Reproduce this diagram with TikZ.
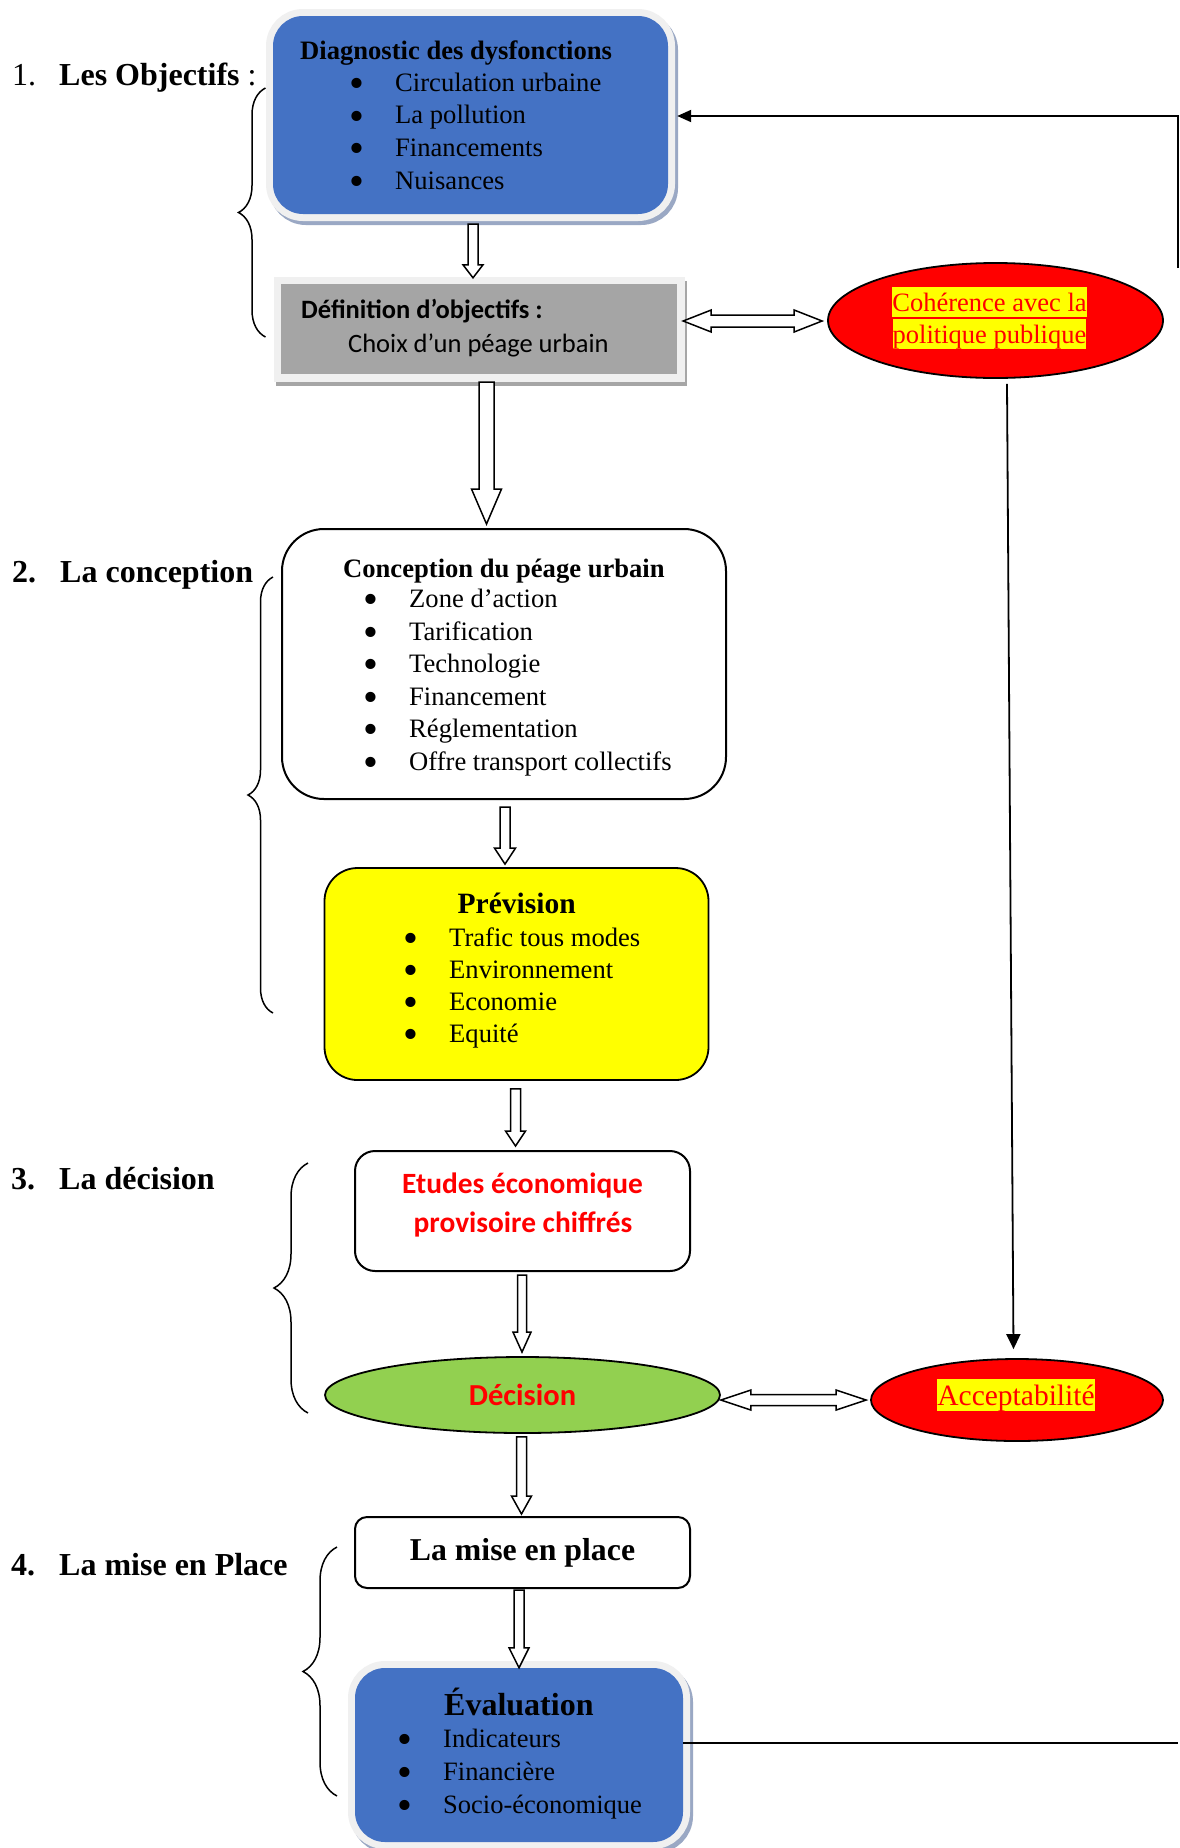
\documentclass[tikz,border=0pt]{standalone}
\usepackage{fontspec}
\setmainfont{Liberation Serif}
\newfontfamily\calib{Carlito}
\usetikzlibrary{shapes.geometric,calc,arrows.meta,decorations.pathreplacing}
\definecolor{boxblue}{HTML}{4472C4}
\definecolor{boxgray}{HTML}{A5A5A5}
\definecolor{glowgray}{HTML}{F0F0F0}
\definecolor{shblue}{HTML}{9AA8C4}
\definecolor{shgray}{HTML}{A6A6A6}
\definecolor{yel}{HTML}{FFFF00}
\definecolor{rd}{HTML}{FF0000}
\definecolor{grn}{HTML}{92D050}
\newcommand\fsz[2]{\fontsize{#1pt}{#2pt}\selectfont}
\newcommand\bl{\makebox[46pt][l]{\smash{\raisebox{-0.24em}{\scalebox{1.6}{•}}}}}
\newcommand\blist[1]{\begin{tabular}[t]{@{}l@{}}#1\end{tabular}}
\newcommand\hlt[1]{{\setlength{\fboxsep}{0pt}\colorbox{yel}{\rule[-0.216em]{0pt}{1.107em}#1}}}
% hollow single arrow: start, end, half shaft, half head, head length
\newcommand\harrow[5]{%
  \coordinate (hH) at ($(#2)!#5pt!(#1)$);
  \draw[hollow] ($(#1)!#3pt!90:(#2)$) -- ($(hH)!#3pt!-90:(#1)$) -- ($(hH)!#4pt!-90:(#1)$) -- (#2)
    -- ($(hH)!#4pt!90:(#1)$) -- ($(hH)!#3pt!90:(#1)$) -- ($(#1)!#3pt!-90:(#2)$) -- cycle;}
% hollow double arrow
\newcommand\dharrow[5]{%
  \coordinate (hA) at ($(#1)!#5pt!(#2)$);
  \coordinate (hB) at ($(#2)!#5pt!(#1)$);
  \draw[hollow] (#1) -- ($(hA)!#4pt!90:(#2)$) -- ($(hA)!#3pt!90:(#2)$) -- ($(hB)!#3pt!-90:(#1)$)
    -- ($(hB)!#4pt!-90:(#1)$) -- (#2) -- ($(hB)!#4pt!90:(#1)$) -- ($(hB)!#3pt!90:(#1)$)
    -- ($(hA)!#3pt!-90:(#2)$) -- ($(hA)!#4pt!-90:(#2)$) -- cycle;}
\tikzset{
  txt/.style={inner sep=0pt, anchor=base west},
  ctxt/.style={inner sep=0pt, anchor=base},
  hollow/.style={draw=black, fill=white, line width=1.5pt, line join=miter},
  plainbox/.style={draw=black, line width=2pt, fill=white, inner sep=0pt},
  blueglow/.style={fill=boxblue, inner sep=0pt, rounded corners=30pt,
    preaction={draw=shblue, line width=14pt, transform canvas={shift={(3pt,-4pt)}}},
    preaction={draw=glowgray, line width=14pt}},
  grayglow/.style={fill=boxgray, inner sep=0pt,
    preaction={draw=shgray, line width=15pt, transform canvas={shift={(2pt,-4pt)}}},
    preaction={draw=glowgray, line width=15pt}},
  oval/.style={ellipse, draw=black, line width=1.8pt, inner sep=0pt},
  curly/.style={decorate, decoration={brace, amplitude=#1}, line width=1.5pt},
  head/.style={font=\fsz{32}{38}},
  boldhead/.style={font=\fsz{32}{38}\bfseries},
  item/.style={font=\fsz{26.6}{32.7}},
  bolditem/.style={font=\fsz{26.6}{32.7}\bfseries},
  feed/.style={line width=2pt}
}
\begin{document}
\begin{tikzpicture}[x=1pt,y=-1pt]
\useasboundingbox (0,0) rectangle (1179,1848);
\fill[white] (0,0) rectangle (1179,1848);

% ---------- boxes ----------
\node[blueglow, minimum width=395pt, minimum height=198pt] (diag) at (470.5,115) {};
\node[grayglow, minimum width=396pt, minimum height=90pt] (defn) at (479,329) {};
\node[oval, fill=rd, minimum width=335pt, minimum height=115pt] (coh) at (995.5,320.5) {};
\node[plainbox, rounded corners=42pt, minimum width=444pt, minimum height=270pt] (conc) at (504,664) {};
\node[plainbox, fill=yel, line width=1.8pt, rounded corners=33pt, minimum width=384pt, minimum height=212pt] (prev) at (516.5,974) {};
\node[plainbox, rounded corners=20pt, minimum width=335pt, minimum height=120pt] (etud) at (522.5,1211) {};
\node[oval, fill=grn, minimum width=395pt, minimum height=76pt] (deci) at (522.5,1395) {};
\node[oval, fill=rd, minimum width=292pt, minimum height=82pt] (acc) at (1017,1400) {};
\node[plainbox, rounded corners=12pt, minimum width=335pt, minimum height=71pt] (mise) at (522.5,1552.5) {};
\node[blueglow, minimum width=328pt, minimum height=174pt] (eval) at (519,1755) {};

% ---------- headings ----------
\node[txt, head] (h1n) at (12,85) {1.};
\node[txt, head] (h1t) at (59,85) {\textbf{Les Objectifs} :};
\node[txt, boldhead] (h2n) at (12,582.5) {2.};
\node[txt, boldhead] (h2t) at (60,582.5) {La conception};
\node[txt, boldhead] (h3n) at (11,1189) {3.};
\node[txt, boldhead] (h3t) at (59,1189) {La décision};
\node[txt, boldhead] (h4n) at (11,1575) {4.};
\node[txt, boldhead] (h4t) at (59,1575) {La mise en Place};

% ---------- braces ----------
\draw[curly=27pt] (265.5,337) -- (265.5,88);
\draw[curly=25pt] (273,1013) -- (273,577);
\draw[curly=34pt] (308,1413) -- (308,1163);
\draw[curly=34pt] (337,1796) -- (337,1547);

% ---------- texts ----------
\node[txt, bolditem] (diagT) at (300,59) {Diagnostic des dysfonctions};
\node[txt, item] (diagL) at (349,91) {\blist{\bl Circulation urbaine\\ \bl La pollution\\ \bl Financements\\ \bl Nuisances}};

\node[txt, font=\calib\bfseries\fsz{26.5}{32}] (defT) at (301,318) {Définition d’objectifs :};
\node[txt, font=\calib\fsz{26.5}{32}] (defS) at (348,352) {Choix d’un péage urbain};

\node[ctxt, font=\fsz{26.5}{32}, text=rd] (coh1) at (989.5,311) {\hlt{Cohérence avec la}};
\node[ctxt, font=\fsz{26.5}{32}, text=rd] (coh2) at (989.5,343) {\hlt{politique publique}};

\node[txt, bolditem] (concT) at (343,577) {Conception du péage urbain};
\node[txt, font=\fsz{26.6}{32.5}] (concL) at (363,607.5) {\blist{\bl Zone d’action\\ \bl Tarification\\ \bl Technologie\\ \bl Financement\\ \bl Réglementation\\ \bl Offre transport collectifs}};

\node[txt, font=\bfseries\fsz{29.5}{34}] (prevT) at (457.5,913) {Prévision};
\node[txt, font=\fsz{26.6}{32}] (prevL) at (403,946) {\blist{\bl Trafic tous modes\\ \bl Environnement\\ \bl Economie\\ \bl Equité}};

\node[ctxt, font=\calib\bfseries\fsz{29.4}{36}, text=rd] (etu1) at (522.5,1193) {Etudes économique};
\node[ctxt, font=\calib\bfseries\fsz{29.4}{36}, text=rd] (etu2) at (523,1232) {provisoire chiffrés};

\node[ctxt, font=\calib\bfseries\fsz{30.5}{36}, text=rd] (deciT) at (522.5,1405) {Décision};
\node[ctxt, font=\fsz{29.5}{34}, text=rd] (accT) at (1016,1405) {\hlt{Acceptabilité}};

\node[ctxt, font=\bfseries\fsz{31.8}{38}] (miseT) at (522.5,1560) {La mise en place};

\node[txt, font=\bfseries\fsz{32}{38}] (evalT) at (444,1715) {Évaluation};
\node[txt, font=\fsz{26.5}{33}] (evalL) at (397,1747) {\blist{\bl Indicateurs\\ \bl Financière\\ \bl Socio-économique}};

% ---------- hollow arrows ----------
\coordinate (a1s) at ($(diag.south)+(2.5,10)$);
\coordinate (a1e) at ($(defn.north)+(-6,-6)$);
\harrow{a1s}{a1e}{5}{10}{13}
\coordinate (a2s) at ($(defn.south)+(7.5,8)$);
\coordinate (a2e) at ($(conc.north)+(-17.5,-4)$);
\harrow{a2s}{a2e}{7.5}{15}{35}
\coordinate (a3s) at ($(conc.south)+(1,7)$);
\coordinate (a3e) at ($(prev.north)+(-11.5,-3)$);
\harrow{a3s}{a3e}{5}{10.5}{16}
\coordinate (a4s) at ($(prev.south)+(-1,8)$);
\coordinate (a4e) at ($(etud.north)+(-7,-4)$);
\harrow{a4s}{a4e}{5}{10}{15}
\coordinate (a5s) at ($(etud.south)+(-0.5,3)$);
\coordinate (a5e) at ($(deci.north)+(-0.5,-4)$);
\harrow{a5s}{a5e}{4.5}{9}{20}
\coordinate (a6s) at ($(deci.south)+(-1,3)$);
\coordinate (a6e) at ($(mise.north)+(-1,-2)$);
\harrow{a6s}{a6e}{5}{10}{18}
\coordinate (a7s) at ($(mise.south)+(-3.5,1)$);
\coordinate (a7e) at (eval.north);
\harrow{a7s}{a7e}{5}{10}{20}
\coordinate (d1s) at ($(defn.east)+(6,-8)$);
\coordinate (d1e) at ($(coh.west)+(-5,0.5)$);
\dharrow{d1s}{d1e}{6}{11}{28}
\coordinate (d2s) at ($(deci.east)+(0,5)$);
\coordinate (d2e) at ($(acc.west)+(-4,0)$);
\dharrow{d2s}{d2e}{5.5}{10}{30}

% ---------- line connectors ----------
\draw[line width=1.8pt, -{Triangle[length=15pt,width=14pt]}] ($(coh.south)+(11.5,5)$) -- ($(acc.north)+(-3.5,-9)$);
\coordinate (fbB) at (1178,1743);
\coordinate (fbC) at (1178,268);
\coordinate (fbT) at (1178,116);
\coordinate (fbE) at ($(diag.east)+(9,1)$);
\draw[feed] (eval.east |- fbB) -- (fbB);
\draw[feed, -{Triangle[length=14pt,width=12pt]}] (fbC) -- (fbT) -- (fbE);
\end{tikzpicture}
\end{document}
